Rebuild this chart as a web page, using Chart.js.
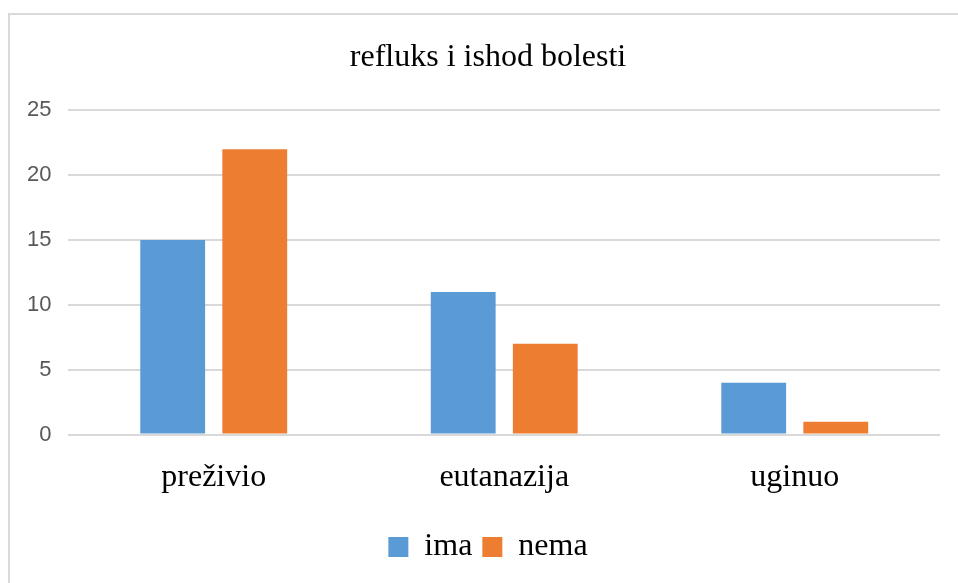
<!DOCTYPE html>
<html>
<head>
<meta charset="utf-8">
<script src="https://cdn.jsdelivr.net/npm/chart.js@4"></script>
<style>
  html, body { margin: 0; padding: 0; background: #fff; }
  #wrap { position: relative; width: 958px; height: 583px; overflow: hidden; }
  #frame { position: absolute; left: 8px; top: 13px; width: 1000px; height: 700px;
           border-top: 2px solid #d9d9d9; border-left: 2px solid #d9d9d9; }
  #myChart { position: absolute; left: 0; top: 0; }
</style>
</head>
<body>
<div id="wrap">
  <div id="frame"></div>
  <canvas id="myChart" width="984" height="583"></canvas>
</div>
<script>
// values
const categories = ['preživio', 'eutanazija', 'uginuo']
const seriesNames = ['ima', 'nema']
const imaValues = [15, 11, 4]
const nemaValues = [22, 7, 1]
const yTicks = [0, 5, 10, 15, 20, 25]

const serif = "'Liberation Serif', 'Times New Roman', serif"

const ctx = document.getElementById('myChart').getContext('2d')
const myChart = new Chart(ctx, {
    type: 'bar',
    data: {
        labels: categories,
        datasets: [{
            label: seriesNames[0],
            data: imaValues,
            backgroundColor: '#5B9BD5',
            borderWidth: 0,
            barPercentage: 0.79,
            categoryPercentage: 0.565
        },
        {
            label: seriesNames[1],
            data: nemaValues,
            backgroundColor: '#ED7D31',
            borderWidth: 0,
            barPercentage: 0.79,
            categoryPercentage: 0.565
        }]
    },
    options: {
        responsive: false,
        animation: false,
        layout: {
            padding: { top: 38, left: 10, right: 18, bottom: 10 }
        },
        plugins: {
            title: {
                display: true,
                text: 'refluks i ishod bolesti',
                color: '#000',
                font: { family: serif, size: 32, weight: 'normal' },
                padding: { top: 0, bottom: 34 }
            },
            legend: {
                position: 'bottom',
                labels: {
                    color: '#000',
                    font: { family: serif, size: 32 },
                    boxWidth: 20,
                    boxHeight: 20,
                    padding: 10
                }
            },
            tooltip: { enabled: false }
        },
        scales: {
            x: {
                grid: { display: false, drawTicks: false },
                border: { display: false },
                ticks: {
                    color: '#000',
                    font: { family: serif, size: 32 },
                    padding: 24
                }
            },
            y: {
                min: 0,
                max: 25,
                afterBuildTicks: axis => { axis.ticks = yTicks.map(v => ({ value: v })) },
                grid: { color: '#d9d9d9', lineWidth: 2, drawTicks: false },
                border: { display: false },
                ticks: {
                    color: '#595959',
                    font: { family: "'Liberation Sans', Arial, sans-serif", size: 22 },
                    padding: 17
                }
            },
            // empty right axis, only keeps the plot clear of the right edge
            yRight: {
                position: 'right',
                grid: { display: false, drawTicks: false },
                border: { display: false },
                ticks: { display: false },
                afterFit: scale => { scale.width = 26 }
            }
        }
    }
})
</script>
</body>
</html>
